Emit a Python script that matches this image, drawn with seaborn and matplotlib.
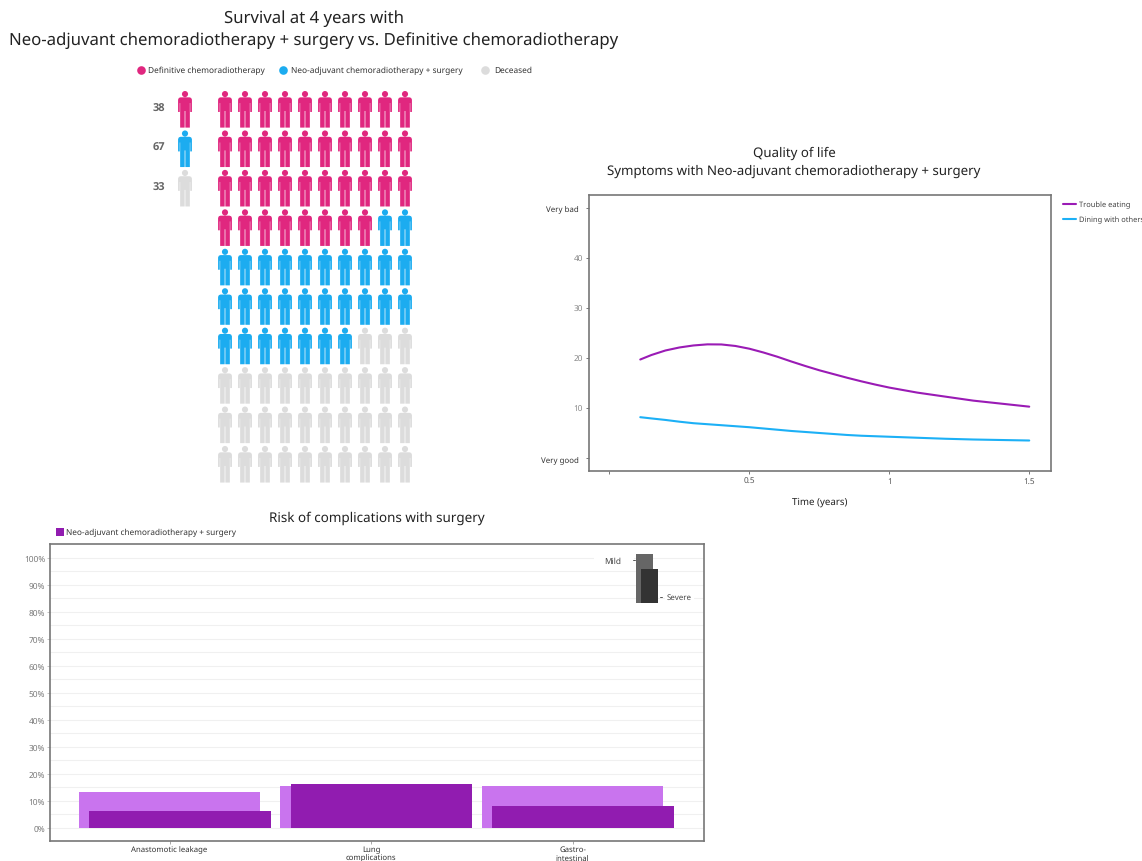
import numpy as np
import pandas as pd
import matplotlib
matplotlib.use("Agg")
import matplotlib.pyplot as plt
from matplotlib.path import Path
from matplotlib.patches import Rectangle
from matplotlib.transforms import ScaledTranslation
import seaborn as sns

# ---- Survival pictogram ----
survival_groups = ["Definitive chemoradiotherapy",
                   "Neo-adjuvant chemoradiotherapy + surgery", "Deceased"]
survival_labels = [38, 67, 33]
survival_icons = [38, 29, 33]

# ---- Quality of life curves ----
time_years = [0.11, 0.15, 0.2, 0.25, 0.3, 0.35, 0.4, 0.45, 0.5, 0.55, 0.6, 0.65, 0.7, 0.75,
              0.8, 0.85, 0.9, 0.95, 1.0, 1.1, 1.2, 1.3, 1.4, 1.5]
trouble_eating = [19.7, 20.6, 21.5, 22.1, 22.5, 22.72, 22.7, 22.4, 21.85, 21.1, 20.25, 19.3,
                  18.4, 17.55, 16.8, 16.05, 15.35, 14.7, 14.1, 13.1, 12.3, 11.5, 10.9, 10.3]
dining_with_others = [8.2, 7.95, 7.65, 7.3, 7.0, 6.8, 6.6, 6.4, 6.2, 5.95, 5.7, 5.45,
                      5.25, 5.05, 4.85, 4.65, 4.5, 4.4, 4.3, 4.1, 3.9, 3.75, 3.65, 3.55]

# ---- Surgical complications ----
complications = ["Anastomotic leakage", "Lung\ncomplications", "Gastro-\nintestinal"]
mild_risk = [13.1, 15.5, 15.5]
severe_risk = [6.3, 16.2, 7.9]
key_levels = ["Mild", "Severe"]
key_heights = [49, 34]

PINK, BLUE, GREY = "#E0277F", "#1CACF0", "#DCDCDC"
PURPLE, LIGHT_PURPLE, LINE_PURPLE = "#911CB0", "#C974EE", "#9A1BB5"
FRAME = "#777777"

sns.set_theme(style="white")
plt.rcParams["font.family"] = ["Noto Sans", "DejaVu Sans"]
plt.rcParams["text.hinting"] = "no_hinting"
plt.rcParams["text.hinting_factor"] = 1

W, H = 1142, 862
fig = plt.figure(figsize=(W / 100, H / 100), dpi=100, facecolor="white")


def axes_px(left, top, right, bottom, **kw):
    return fig.add_axes([left / W, 1 - bottom / H, (right - left) / W, (bottom - top) / H], **kw)


def person_marker():
    outline = np.array([
        (-4.5, 6.2), (-6.2, 6.8), (-7, 8.5), (-7, 21), (-5.3, 21), (-5.3, 12), (-4.9, 12),
        (-4.9, 36.8), (-0.35, 36.8), (-0.35, 20), (0.35, 20), (0.35, 36.8),
        (4.9, 36.8), (4.9, 12), (5.3, 12), (5.3, 21), (7, 21), (7, 8.5), (6.2, 6.8), (4.5, 6.2),
        (-4.5, 6.2),
    ])
    outline = (outline - [0, 18.5]) * [1, -1] / 18.5
    body = Path(outline, closed=True)
    head = Path.circle((0, (18.5 - 2.9) / 18.5), 3.1 / 18.5)
    return Path.make_compound_path(head, body)


PERSON = person_marker()
PERSON_SIZE = (37 * 0.72) ** 2

# Overlay in pixel units for titles and legend swatches
page = axes_px(0, 0, W, H)
page.set_xlim(0, W)
page.set_ylim(H, 0)
page.axis("off")
page.set_zorder(5)
page.patch.set_alpha(0)


def label(x, y, s, size, color="#222222", ha="center", **kw):
    page.text(x, y, s, fontsize=size, color=color, ha=ha, va="center", **kw)


label(314, 19, "Survival at 4 years with", 12.05)
label(314, 41, "Neo-adjuvant chemoradiotherapy + surgery vs. Definitive chemoradiotherapy", 12.05)
label(794, 153, "Quality of life", 9.55)
label(794, 171, "Symptoms with Neo-adjuvant chemoradiotherapy + surgery", 9.55)
label(377, 518, "Risk of complications with surgery", 9.7)

# Pictogram legend
for x_dot, x_txt, name, col in zip([141, 283, 485], [148, 291, 494], survival_groups, [PINK, BLUE, GREY]):
    page.plot([x_dot], [71], "o", ms=6.2, color=col, mew=0)
    label(x_txt, 71, name, 6.0, ha="left", color="#333333")

# ---- Pictogram: 10 x 10 grid in reading order plus a three-icon key ----
pic = axes_px(140, 85, 420, 485)
step_x, step_y = 20.0, 39.44
pic.set_xlim((140 - 225) / step_x, (420 - 225) / step_x)
pic.set_ylim((485 - 110.5) / step_y, (85 - 110.5) / step_y)
pic.axis("off")

group_of_icon = np.repeat(survival_groups, survival_icons)
grid = pd.DataFrame({
    "col": np.arange(group_of_icon.size) % 10,
    "row": np.arange(group_of_icon.size) // 10,
    "group": group_of_icon,
})
palette = dict(zip(survival_groups, [PINK, BLUE, GREY]))
sns.scatterplot(data=grid, x="col", y="row", hue="group", palette=palette, marker=PERSON,
                s=PERSON_SIZE, linewidth=0, legend=False, ax=pic)
key = pd.DataFrame({"col": -2, "row": range(3), "group": survival_groups})
sns.scatterplot(data=key, x="col", y="row", hue="group", palette=palette, marker=PERSON,
                s=PERSON_SIZE, linewidth=0, legend=False, ax=pic)
for row, value in enumerate(survival_labels):
    pic.text(-3.3, row - 0.04, str(value), fontsize=8, fontweight="bold", family="Open Sans",
             color="#666666", ha="center", va="center")

# ---- Quality of life ----
qol = axes_px(588.5, 196, 1050.5, 472)
curves = pd.DataFrame({"time": time_years * 2,
                       "score": trouble_eating + dining_with_others,
                       "symptom": ["Trouble eating"] * len(time_years) + ["Dining with others"] * len(time_years)})
sns.lineplot(data=curves, x="time", y="score", hue="symptom", palette=[LINE_PURPLE, "#1CB0F6"],
             linewidth=1.5, legend=False, ax=qol)
qol.set_xlim(-0.075, 1.576)
qol.set_ylim(-2.53, 52.5)
qol.set_xticks([0, 0.5, 1, 1.5], ["", "0.5", "1", "1.5"])
qol.set_yticks([0, 10, 20, 30, 40, 50], ["Very good", "10", "20", "30", "40", "Very bad"])
qol.set_ylabel("")
qol.set_xlabel("Time (years)", fontsize=7, color="#222222", labelpad=8)
qol.tick_params(axis="both", length=2, width=0.7, color=FRAME, labelsize=5.9,
                labelcolor="#555555", pad=2, bottom=True, left=True)
for tick in qol.get_yticklabels():
    if tick.get_text().startswith("Very"):
        tick.set_fontsize(5.7)
        tick.set_color("#333333")
        tick.set_transform(tick.get_transform() + ScaledTranslation(-3 / 72, 0, fig.dpi_scale_trans))
    else:
        tick.set_color("#888888")
for side in qol.spines.values():
    side.set_edgecolor(FRAME)
    side.set_linewidth(1.2)

for y_key, name, col in zip([205, 220], ["Trouble eating", "Dining with others"], [LINE_PURPLE, "#1CB0F6"]):
    page.plot([1063, 1076], [y_key, y_key], color=col, lw=1.5)
    label(1079, y_key, name, 5.4, ha="left", color="#444444")

# ---- Complications: severe bars overlap the mild ones with a small sideways offset ----
risk = axes_px(50, 544.5, 703.5, 842)
risk_long = pd.DataFrame({"complication": complications * 2,
                          "risk": mild_risk + severe_risk,
                          "grade": ["Mild"] * 3 + ["Severe"] * 3})
sns.barplot(data=risk_long, x="complication", y="risk", hue="grade", dodge=False, width=0.9,
            palette=[LIGHT_PURPLE, PURPLE], legend=False, linewidth=0,
            saturation=1, ax=risk, zorder=3)
for bar in risk.containers[1]:
    bar.set_x(bar.get_x() + 0.052)
risk.set_xlim(-0.5935, 2.649)
risk.set_ylim(-4.9, 105.2)
percent_ticks = np.arange(0, 101, 10)
risk.set_yticks(percent_ticks, [f"{v}%" for v in percent_ticks])
risk.set_yticks(np.arange(5, 100, 10), minor=True)
risk.grid(axis="y", which="both", color="#F0F0F0", linewidth=0.8)
risk.set_axisbelow(True)
risk.set_xlabel("")
risk.set_ylabel("")
risk.tick_params(axis="y", which="major", length=2, width=0.6, color="#BBBBBB", labelsize=6,
                 labelcolor="#777777", pad=1.5, left=True)
risk.tick_params(axis="x", length=2, width=0.6, color="#999999", labelsize=5.6, labelcolor="#333333",
                 pad=1, bottom=True)
for tick in risk.get_xticklabels():
    tick.set_linespacing(1.1)
for side in risk.spines.values():
    side.set_edgecolor(FRAME)
    side.set_linewidth(1.2)

page.plot([60], [533], color=PURPLE, lw=0, marker="s", ms=5.6, mew=0)
label(66, 533, "Neo-adjuvant chemoradiotherapy + surgery", 5.95, ha="left", color="#333333")

# Shade key for mild and severe, set on a white patch above the gridlines
page.add_patch(Rectangle((594, 555), 40, 12, facecolor="white", edgecolor="none", zorder=0))
key_ax = axes_px(636, 555, 657.5, 604)
key_ax.set_zorder(6)
key_ax.patch.set_alpha(0)
key_df = pd.DataFrame({"level": key_levels, "height": key_heights})
sns.barplot(data=key_df, x="level", y="height", hue="level", palette=["#666666", "#333333"],
            dodge=False, legend=False, width=16.5 / 21.5, saturation=1, linewidth=0, ax=key_ax)
key_ax.containers[0][0].set_x(-0.5)
key_ax.containers[1][0].set_x(-0.5 + 5 / 21.5)
key_ax.set_xlim(-0.5, 0.5)
key_ax.set_ylim(0, 49)
key_ax.axis("off")
white = dict(facecolor="white", edgecolor="none", pad=1.5)
label(613, 561.5, "Mild", 6, color="#444444")
label(679.5, 598, "Severe", 5.7, color="#444444", bbox=white)
page.plot([632.5, 634.5], [561, 561], color="#555555", lw=0.7)
page.plot([660, 662], [598, 598], color="#555555", lw=0.7)

fig.savefig("out.png", dpi=100)
